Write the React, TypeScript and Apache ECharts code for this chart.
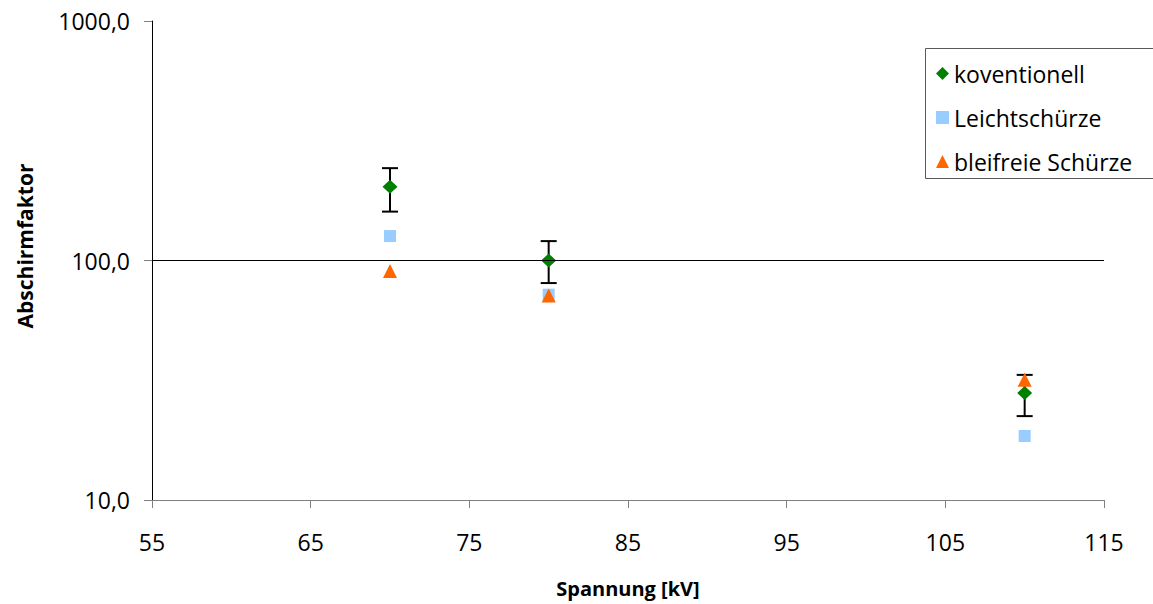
import React, { useEffect, useRef } from "react";
import * as echarts from "echarts";

// Data
const X_MIN = 55;
const X_MAX = 115;
const X_INTERVAL = 10;
const voltages = [70, 80, 110];
const koventionell = [203, 100, 28];
const koventionellLow = [160, 80.5, 22.4];
const koventionellHigh = [243, 120.5, 33.3];
const leichtschuerze = [126.5, 72, 18.5];
const bleifrei = [90.4, 71.5, 31.8];
const seriesNames = ["koventionell", "Leichtschürze", "bleifreie Schürze"];
const yTicks = [10, 100, 1000];
const referenceLine = 100;

const FONT = "'Open Sans', 'Noto Sans', sans-serif";

export default function App() {
  const ref = useRef<HTMLDivElement>(null);

  useEffect(() => {
    document.body.style.margin = "0";
    const chart = echarts.init(ref.current!, undefined, { renderer: "svg" });
    const toX = (v: number) => v - X_MIN;
    const pts = (vals: number[]) => voltages.map((x, i) => [toX(x), vals[i]]);

    const option: any = {
      animation: false,
      backgroundColor: "#ffffff",
      grid: { left: 152, right: 49, top: 21, bottom: 104, containLabel: false },
      xAxis: {
        type: "value",
        min: 0,
        max: X_MAX - X_MIN,
        interval: X_INTERVAL,
        axisLine: { show: true, lineStyle: { color: "#808080", width: 1 } },
        axisTick: { show: true, length: 8, lineStyle: { color: "#808080" } },
        axisLabel: {
          margin: 30,
          color: "#000",
          fontFamily: FONT,
          fontSize: 23,
          formatter: (v: number) => String(v + X_MIN),
        },
        splitLine: { show: false },
      },
      yAxis: {
        type: "log",
        logBase: 10,
        min: yTicks[0],
        max: yTicks[yTicks.length - 1],
        axisLine: { show: true, lineStyle: { color: "#000", width: 1 } },
        axisTick: { show: true, length: 8, lineStyle: { color: "#808080" } },
        minorTick: { show: false },
        axisLabel: {
          margin: 22,
          color: "#000",
          fontFamily: FONT,
          fontSize: 23,
          formatter: (v: number) => v.toFixed(1).replace(".", ","),
        },
        splitLine: { show: false },
      },
      legend: {
        orient: "vertical",
        left: 925,
        top: 48,
        data: [
          { name: seriesNames[0], icon: "diamond" },
          { name: seriesNames[1], icon: "rect" },
          { name: seriesNames[2], icon: "triangle" },
        ],
        itemWidth: 13,
        itemHeight: 13,
        itemGap: 21,
        padding: [14, 14, 6, 11],
        borderWidth: 0,
        textStyle: {
          color: "#000",
          fontFamily: FONT,
          fontSize: 23,
          lineHeight: 23,
        },
        selectedMode: false,
      },
      graphic: [
        {
          type: "rect",
          z: 0,
          silent: true,
          shape: { x: 925.5, y: 48.5, width: 260, height: 130 },
          style: { fill: "#fff", stroke: "#595959", lineWidth: 1 },
        },
        {
          type: "text",
          x: 25,
          y: 246,
          rotation: Math.PI / 2,
          style: {
            text: "Abschirmfaktor",
            fill: "#000",
            font: `bold 21px ${FONT}`,
            align: "center",
            verticalAlign: "middle",
          },
        },
        {
          type: "text",
          x: 628,
          y: 588,
          style: {
            text: "Spannung [kV]",
            fill: "#000",
            font: `bold 20px ${FONT}`,
            align: "center",
            verticalAlign: "middle",
          },
        },
      ],
      series: [
        {
          type: "custom",
          name: "errorbars",
          z: 2,
          silent: true,
          data: voltages.map((x, i) => [toX(x), koventionellLow[i], koventionellHigh[i]]),
          encode: { x: 0, y: [1, 2] },
          renderItem: (params: any, api: any) => {
            const x = api.value(0);
            const lo = api.coord([x, api.value(1)]);
            const hi = api.coord([x, api.value(2)]);
            const cap = 8;
            const style = { stroke: "#000", lineWidth: 2 };
            return {
              type: "group",
              children: [
                { type: "line", shape: { x1: lo[0], y1: lo[1], x2: hi[0], y2: hi[1] }, style },
                { type: "line", shape: { x1: lo[0] - cap, y1: lo[1], x2: lo[0] + cap, y2: lo[1] }, style },
                { type: "line", shape: { x1: hi[0] - cap, y1: hi[1], x2: hi[0] + cap, y2: hi[1] }, style },
              ],
            };
          },
          markLine: {
            silent: true,
            symbol: "none",
            label: { show: false },
            lineStyle: { color: "#000", width: 1, type: "solid" },
            data: [{ yAxis: referenceLine }],
          },
        },
        {
          type: "scatter",
          name: seriesNames[0],
          symbol: "diamond",
          symbolSize: [15, 14],
          z: 3,
          itemStyle: { color: "#008000", opacity: 1 },
          data: pts(koventionell),
        },
        {
          type: "scatter",
          name: seriesNames[1],
          symbol: "rect",
          symbolSize: 12,
          z: 4,
          itemStyle: { color: "#99ccff", opacity: 1 },
          data: pts(leichtschuerze),
        },
        {
          type: "scatter",
          name: seriesNames[2],
          symbol: "triangle",
          symbolSize: [14, 14],
          z: 5,
          itemStyle: { color: "#ff6600", opacity: 1 },
          data: pts(bleifrei),
        },
      ],
    };
    chart.setOption(option);
    return () => chart.dispose();
  }, []);

  return (
    <div
      ref={ref}
      style={{ position: "fixed", left: 0, top: 0, width: 1153, height: 604 }}
    />
  );
}
